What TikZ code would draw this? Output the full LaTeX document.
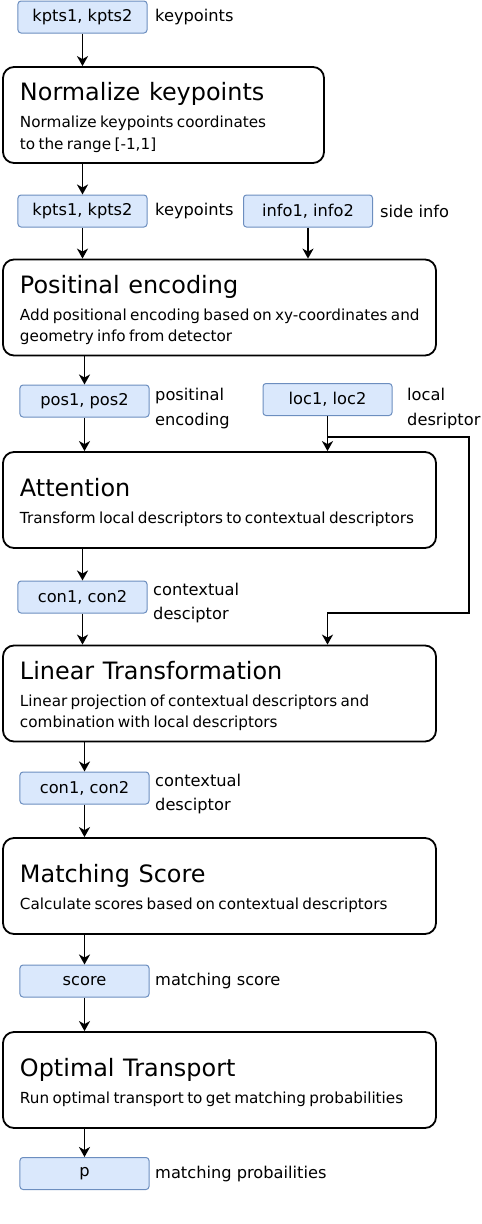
\documentclass[tikz,border=0pt]{standalone}
\usepackage{fontspec}
\setmainfont{DejaVu Sans}
\usepackage{xcolor}
\usepackage{tikz}
\definecolor{ChipFill}{HTML}{DAE8FC}
\definecolor{ChipLine}{HTML}{6C8EBF}
\usetikzlibrary{arrows.meta,positioning}
\newcommand{\titlefont}[0]{\fontsize{24}{29}\selectfont\spaceskip=0.36em\relax}
\newcommand{\descfont}[0]{\fontsize{15.3}{22}\selectfont}
\newcommand{\notefont}[0]{\fontsize{16.3}{25}\selectfont}
\newcommand{\stagetext}[2]{\leftskip=5.5bp{\titlefont\rule{0pt}{26.6bp}#1\par}\vspace{5bp}{\descfont #2\strut\par}}

\begin{document}
\begin{tikzpicture}[x=1bp, y=-1bp, >={Stealth[length=10bp,width=11bp,inset=3bp]},
        chip/.style={draw=ChipLine, fill=ChipFill, line width=1bp, rounded corners=3bp, minimum width=129bp, minimum height=32bp, inner sep=0pt, font=\notefont},
        stage/.style={draw, line width=1.8bp, rounded corners=11bp, minimum height=96bp, inner xsep=11.5bp, inner ysep=0pt, align=left},
        note/.style={anchor=west, align=left, inner sep=0pt, font=\notefont},
        flow/.style={->, line width=1.9bp}]
        \useasboundingbox (0,0) rectangle (482,1224);

        % Draw the processing stages
        \node[stage, text width=298bp] (norm) at (163.5,115) {\stagetext{Normalize keypoints}{Normalize keypoints coordinates\\to the range [-1,1]}};
        \node[stage, text width=410bp] (posenc) at (219.5,307.5) {\stagetext{Positinal encoding}{Add positional encoding based on xy-coordinates and\\geometry info from detector}};
        \node[stage, text width=410bp] (attn) at (219.5,500) {\stagetext{Attention}{Transform local descriptors to contextual descriptors}};
        \node[stage, text width=410bp] (lin) at (219.5,693.5) {\stagetext{Linear Transformation}{Linear projection of contextual descriptors and\\combination with local descriptors}};
        \node[stage, text width=410bp] (match) at (219.5,886) {\stagetext{Matching Score}{Calculate scores based on contextual descriptors}};
        \node[stage, text width=410bp] (ot) at (219.5,1080) {\stagetext{Optimal Transport}{Run optimal transport to get matching probabilities}};

        % Draw the data chips and their notes
        \node[chip] (kp0) at (82.5,17) {kpts1, kpts2};
        \node[note] (kp0note) at (155,17) {keypoints};
        \node[chip] (kp1) at (82.5,211) {kpts1, kpts2};
        \node[note] (kp1note) at (155,211) {keypoints};
        \node[chip] (info) at (308,211) {info1, info2};
        \node[note] (infonote) at (380,211) {side info};
        \node[chip] (pos) at (84.5,401) {pos1, pos2};
        \node[note] (posnote) at (155,408.5) {positinal\\encoding};
        \node[chip] (loc) at (327.5,399.5) {loc1, loc2};
        \node[note] (locnote) at (407,408.5) {local\\desriptor};
        \node[chip] (con0) at (82.5,597) {con1, con2};
        \node[note] (con0note) at (153,603) {contextual\\desciptor};
        \node[chip] (con1) at (84.5,788) {con1, con2};
        \node[note] (con1note) at (155,794) {contextual\\desciptor};
        \node[chip] (score) at (84.5,981) {score};
        \node[note] (scorenote) at (155,981) {matching score};
        \node[chip] (prob) at (84.5,1173.5) {p};
        \node[note] (probnote) at (155,1174) {matching probailities};

        % Draw the main flow
        \draw[flow] (kp0) -- (kp0 |- norm.north);
        \draw[flow] (norm.south -| kp1) -- (kp1);
        \draw[flow] (kp1) -- (kp1 |- posenc.north);
        \draw[flow] (info) -- (info |- posenc.north);
        \draw[flow] (posenc.south -| pos) -- (pos);
        \draw[flow] (pos) -- (pos |- attn.north);
        \draw[flow] (loc) -- (loc |- attn.north);
        \draw[flow] (attn.south -| con0) -- (con0);
        \draw[flow] (con0) -- (con0 |- lin.north);
        \draw[flow] (lin.south -| con1) -- (con1);
        \draw[flow] (con1) -- (con1 |- match.north);
        \draw[flow] (match.south -| score) -- (score);
        \draw[flow] (score) -- (score |- ot.north);
        \draw[flow] (ot.south -| prob) -- (prob);

        % Local descriptors skip past attention
        \coordinate (split) at (327.5,437);
        \coordinate (detour) at (469,613);
        \draw[flow] (split) -| (detour) -| (lin.north -| loc);
\end{tikzpicture}
\end{document}
